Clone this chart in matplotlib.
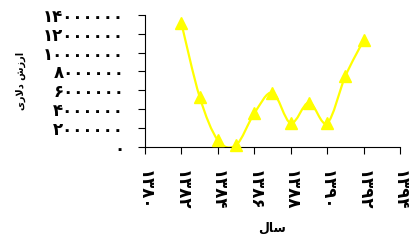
import numpy as np
import matplotlib
matplotlib.use("Agg")
import matplotlib.pyplot as plt
from matplotlib.path import Path
from matplotlib.patches import PathPatch

# datos
anios = [1382, 1383, 1384, 1385, 1386, 1387, 1388, 1389, 1390, 1391, 1392]
valores = [13100000, 5300000, 700000, 180000, 3550000, 5750000,
           2500000, 4700000, 2500000, 7500000, 11300000]

x_ticks = [1380, 1382, 1384, 1386, 1388, 1390, 1392, 1394]
x_labels = ["۱۳۸۰", "۱۳۸۲", "۱۳۸۴", "۱۳۸۶", "۱۳۸۸", "۱۳۹۰", "۱۳۹۲", "۱۳۹۴"]
y_ticks = [0, 2000000, 4000000, 6000000, 8000000, 10000000, 12000000, 14000000]
y_labels = ["۰", "۲۰۰۰۰۰۰", "۴۰۰۰۰۰۰", "۶۰۰۰۰۰۰", "۸۰۰۰۰۰۰",
            "۱۰۰۰۰۰۰۰", "۱۲۰۰۰۰۰۰", "۱۴۰۰۰۰۰۰"]

# texto persa ya en orden visual (matplotlib no hace bidi)
titulo_y = "یر\uFEFBد شزرا"
titulo_x = "ل\uFE8E\uFEB3"

amarillo = "#FFFF00"

fig = plt.figure(figsize=(4.09, 2.41), dpi=100)
ax = fig.add_axes([0.3545, 0.391, 0.6235, 0.547])

# curva suavizada (Catmull-Rom como Bezier cúbico)
px = np.array(anios, dtype=float)
py = np.array(valores, dtype=float)
verts = [(px[0], py[0])]
codes = [Path.MOVETO]
n = len(px)
for i in range(n - 1):
    p0 = i - 1 if i > 0 else i
    p3 = i + 2 if i + 2 < n else i + 1
    c1 = (px[i] + (px[i + 1] - px[p0]) / 6, py[i] + (py[i + 1] - py[p0]) / 6)
    c2 = (px[i + 1] - (px[p3] - px[i]) / 6, py[i + 1] - (py[p3] - py[i]) / 6)
    verts += [c1, c2, (px[i + 1], py[i + 1])]
    codes += [Path.CURVE4] * 3
ax.add_patch(PathPatch(Path(verts, codes), facecolor="none",
                       edgecolor=amarillo, linewidth=1.6))
ax.plot(anios, valores, linestyle="none", marker="^", markersize=9,
        color=amarillo, clip_on=False, zorder=3)

ax.set_xlim(1380, 1394)
ax.set_ylim(0, 14000000)
ax.set_xticks(x_ticks)
ax.set_xticklabels(x_labels, rotation=-90, fontsize=12, fontweight="bold")
ax.set_yticks(y_ticks)
ax.set_yticklabels(y_labels, fontsize=12, fontweight="bold")
ax.tick_params(axis="both", direction="out", length=5, width=0.8, colors="black")
ax.tick_params(axis="x", pad=12)
ax.tick_params(axis="y", pad=10)

for lado in ["top", "right"]:
    ax.spines[lado].set_visible(False)
for lado in ["left", "bottom"]:
    ax.spines[lado].set_linewidth(0.8)

ax.set_ylabel(titulo_y, fontsize=7, fontweight="bold", labelpad=12)
ax.set_xlabel(titulo_x, fontsize=9, fontweight="bold", labelpad=8)

fig.savefig("out.png", dpi=100)
